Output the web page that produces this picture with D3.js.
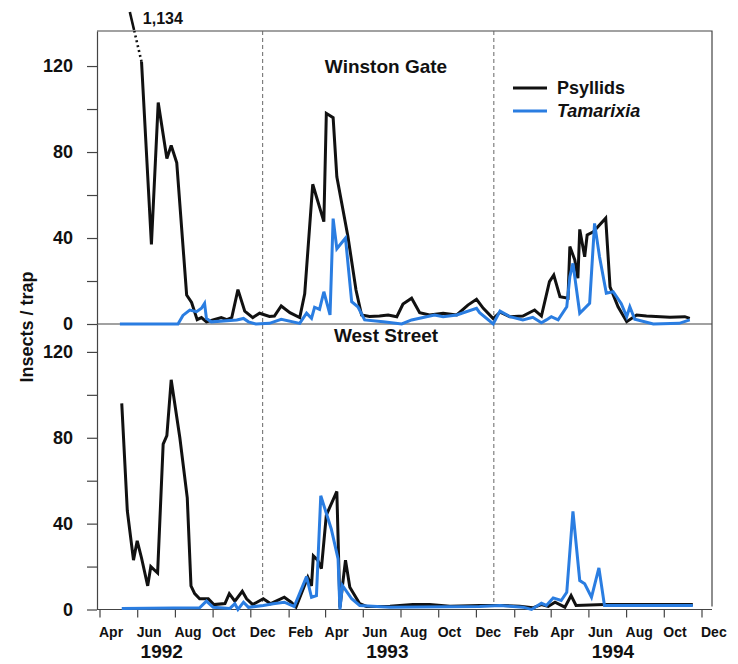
<!DOCTYPE html>
<html>
<head>
<meta charset="utf-8">
<script src="https://cdnjs.cloudflare.com/ajax/libs/d3/7.8.5/d3.min.js"></script>
<style>
  body { margin: 0; background: #fff; }
  svg text { font-family: "Liberation Sans", Arial, Helvetica, sans-serif; font-weight: bold; fill: #111; }
</style>
</head>
<body>
<svg id="chart" width="738" height="664"></svg>
<script>
// weekly trap counts as [date, insects per trap]
const wgPsyllids = [
  ["1992-05-14", 1134], ["1992-06-08", 122], ["1992-06-24", 37], ["1992-07-05", 103],
  ["1992-07-19", 77], ["1992-07-26", 83], ["1992-08-04", 75], ["1992-08-20", 13.5],
  ["1992-08-28", 10], ["1992-09-06", 2], ["1992-09-13", 3], ["1992-09-21", 1],
  ["1992-10-03", 2], ["1992-10-15", 3], ["1992-10-24", 2], ["1992-11-01", 3],
  ["1992-11-11", 16], ["1992-11-22", 6], ["1992-12-05", 3], ["1992-12-16", 5],
  ["1993-01-01", 3.5], ["1993-01-09", 3.7], ["1993-01-20", 8.4], ["1993-02-03", 5.3],
  ["1993-02-19", 3], ["1993-02-27", 14], ["1993-03-12", 65], ["1993-03-30", 47.6],
  ["1993-04-03", 98], ["1993-04-14", 96], ["1993-04-20", 68.5], ["1993-05-08", 40.6],
  ["1993-05-21", 15.8], ["1993-05-30", 4.2], ["1993-06-12", 3.5], ["1993-06-28", 3.7],
  ["1993-07-12", 4.2], ["1993-07-26", 3.4], ["1993-08-05", 9.3], ["1993-08-19", 12],
  ["1993-09-01", 5.3], ["1993-09-17", 4.2], ["1993-10-09", 5], ["1993-10-31", 4.2],
  ["1993-11-18", 8.8], ["1993-12-02", 11.5], ["1993-12-13", 7.3], ["1993-12-29", 2.5],
  ["1994-01-09", 5.5], ["1994-01-25", 3.4], ["1994-02-15", 3.7], ["1994-03-06", 6.5],
  ["1994-03-17", 3.7], ["1994-03-30", 19.7], ["1994-04-06", 22.8], ["1994-04-16", 12.7],
  ["1994-04-29", 12], ["1994-05-02", 36], ["1994-05-10", 29.8], ["1994-05-15", 21.3],
  ["1994-05-18", 44], ["1994-05-26", 31.3], ["1994-05-30", 41.4], ["1994-06-09", 42.9],
  ["1994-06-29", 49.2], ["1994-07-06", 17.3], ["1994-07-19", 8], ["1994-08-02", 1.1],
  ["1994-08-18", 4.2], ["1994-09-03", 3.7], ["1994-10-11", 3.1], ["1994-11-04", 3.4],
  ["1994-11-12", 2.6]
];

const wgTamarixia = [
  ["1992-05-04", 0], ["1992-08-06", 0], ["1992-08-14", 4], ["1992-08-25", 6.5],
  ["1992-09-05", 5.7], ["1992-09-13", 7.3], ["1992-09-18", 9.6], ["1992-09-21", 2.6],
  ["1992-09-29", 1], ["1992-11-09", 1.9], ["1992-11-20", 2.6], ["1992-11-28", 1],
  ["1992-12-10", 0], ["1993-01-01", 0.3], ["1993-01-20", 2.2], ["1993-02-19", 0.3],
  ["1993-03-02", 5], ["1993-03-10", 2.6], ["1993-03-15", 7.8], ["1993-03-23", 6.8],
  ["1993-03-30", 15], ["1993-04-09", 4.2], ["1993-04-14", 49], ["1993-04-20", 35],
  ["1993-05-04", 40], ["1993-05-14", 10.4], ["1993-05-24", 8], ["1993-06-04", 1.9],
  ["1993-07-04", 1], ["1993-08-03", 0], ["1993-08-19", 1.9], ["1993-09-25", 4.2],
  ["1993-10-09", 3.4], ["1993-10-31", 4.2], ["1993-12-02", 7.3], ["1993-12-07", 5.3],
  ["1993-12-29", 0], ["1994-01-09", 6], ["1994-01-25", 3.4], ["1994-02-15", 1.9],
  ["1994-03-03", 3.1], ["1994-03-17", 0.6], ["1994-03-25", 1.9], ["1994-04-02", 3.4],
  ["1994-04-13", 1.9], ["1994-04-27", 8], ["1994-05-02", 22], ["1994-05-07", 28.2],
  ["1994-05-18", 5], ["1994-06-03", 9.6], ["1994-06-11", 46.8], ["1994-06-19", 31.3],
  ["1994-06-30", 14.3], ["1994-07-11", 15], ["1994-07-24", 9.6], ["1994-08-02", 3.4],
  ["1994-08-07", 8], ["1994-08-15", 2.2], ["1994-09-14", 0], ["1994-10-26", 0.3],
  ["1994-11-12", 1.9]
];

const wsPsyllids = [
  ["1992-05-07", 96], ["1992-05-16", 46], ["1992-05-26", 23], ["1992-06-01", 32],
  ["1992-06-08", 24], ["1992-06-18", 11], ["1992-06-23", 20], ["1992-07-04", 17],
  ["1992-07-13", 77], ["1992-07-19", 81], ["1992-07-26", 107], ["1992-08-09", 80],
  ["1992-08-21", 52], ["1992-08-27", 11], ["1992-09-02", 7.4], ["1992-09-10", 5],
  ["1992-09-24", 5], ["1992-10-03", 2.3], ["1992-10-21", 2.8], ["1992-10-28", 7.4],
  ["1992-11-06", 3.9], ["1992-11-18", 8.5], ["1992-11-25", 5], ["1992-12-05", 2.3],
  ["1992-12-22", 5], ["1993-01-03", 2.7], ["1993-01-25", 5.7], ["1993-02-05", 3.4],
  ["1993-02-13", 1.1], ["1993-03-04", 15], ["1993-03-10", 11], ["1993-03-13", 25],
  ["1993-03-20", 23], ["1993-03-26", 19], ["1993-04-03", 44], ["1993-04-20", 55],
  ["1993-04-25", 1], ["1993-05-04", 23], ["1993-05-11", 10.4], ["1993-05-27", 2.7],
  ["1993-06-07", 1.4], ["1993-07-15", 1.5], ["1993-08-21", 2.3], ["1993-09-17", 2.3],
  ["1993-10-20", 1.5], ["1993-12-07", 1.9], ["1994-01-15", 1.9], ["1994-02-10", 1.5],
  ["1994-03-03", 0.8], ["1994-03-17", 2.3], ["1994-03-28", 1.4], ["1994-04-08", 3.4],
  ["1994-04-24", 1.1], ["1994-05-04", 6.5], ["1994-05-12", 1.9], ["1994-06-27", 2.3],
  ["1994-11-17", 2.3]
];

const wsTamarixia = [
  ["1992-05-07", 0.5], ["1992-09-10", 0.8], ["1992-09-21", 3.9], ["1992-10-02", 1],
  ["1992-10-29", 0.5], ["1992-11-06", 2.7], ["1992-11-11", 0], ["1992-11-20", 3.4],
  ["1992-11-28", 1], ["1992-12-22", 1.9], ["1993-01-07", 2.7], ["1993-01-25", 3.4],
  ["1993-02-10", 1.4], ["1993-03-02", 15.3], ["1993-03-10", 5.7], ["1993-03-18", 6.5],
  ["1993-03-25", 53], ["1993-04-11", 37.5], ["1993-04-22", 23.6], ["1993-04-25", 0],
  ["1993-04-29", 11.2], ["1993-05-14", 5], ["1993-05-27", 1.9], ["1993-07-15", 1],
  ["1993-12-07", 1.4], ["1994-01-09", 1.9], ["1994-01-30", 1.4], ["1994-02-15", 1.1],
  ["1994-03-01", 0], ["1994-03-17", 2.9], ["1994-03-25", 1.9], ["1994-04-05", 5.4],
  ["1994-04-18", 4.2], ["1994-04-27", 8], ["1994-05-07", 45.7], ["1994-05-18", 13.5],
  ["1994-05-26", 12], ["1994-06-06", 5.7], ["1994-06-18", 19.4], ["1994-06-27", 1.9],
  ["1994-11-17", 1.9]
];

const siteNames = ["Winston Gate", "West Street"];
const seriesNames = ["Psyllids", "Tamarixia"];
const seasonBreaks = ["1992-12-21", "1993-12-30"];
const yearLabels = ["1992", "1993", "1994"];
const yTicks = [0, 20, 40, 60, 80, 100, 120];

const parse = d3.timeParse("%Y-%m-%d");
const toPoints = arr => arr.map(d => ({ date: parse(d[0]), value: d[1] }));

const colors = { psy: "#111111", tam: "#2a7de1" };
const svg = d3.select("#chart");

const plotL = 97, plotR = 712, plotT = 31, plotM = 324, plotB = 609.5;

const xStart = new Date(1992, 3, 1), xEnd = new Date(1994, 11, 1);
const x = d3.scaleTime()
    .domain([xStart, xEnd])
    .range([99.5, 701.5]);

const yTop = d3.scaleLinear().domain([0, 136.3]).range([plotM, plotT]);
const yBot = d3.scaleLinear().domain([0, 133]).range([plotB, plotM]);

// frame
const frame = svg.append("g").attr("stroke", "#444").attr("stroke-width", 1.2).attr("fill", "none");
frame.append("path").attr("d", `M${plotL},${plotT}H${plotR}V${plotB - 3}`);
frame.append("path").attr("d", `M${plotL},${plotM}H${plotR}`);
frame.append("path").attr("d", `M${plotL},${plotB}H${plotR}`);

// season dividers
svg.append("g").selectAll("line")
    .data(seasonBreaks.map(parse))
    .join("line")
    .attr("x1", d => x(d)).attr("x2", d => x(d))
    .attr("y1", plotT).attr("y2", plotB - 3)
    .attr("stroke", "#666")
    .attr("stroke-width", 1)
    .attr("stroke-dasharray", "4,3");

// y axes
function drawYAxis(scale) {
    const ax = svg.append("g")
        .attr("transform", `translate(${plotL},0)`)
        .call(d3.axisLeft(scale)
            .tickValues(yTicks)
            .tickSize(10)
            .tickSizeOuter(0)
            .tickPadding(14)
            .tickFormat(d => d % 40 === 0 ? d : ""));
    ax.select(".domain").attr("stroke", "#444").attr("stroke-width", 1.2);
    ax.selectAll(".tick line").attr("stroke", "#444").attr("stroke-width", 1.2);
    ax.selectAll(".tick text")
        .attr("font-size", 18)
        .attr("font-family", "Liberation Sans, Arial, sans-serif")
        .attr("font-weight", "bold")
        .attr("fill", "#111");
}
drawYAxis(yTop);
drawYAxis(yBot);

// x axis: every other month starting in April
const monthTicks = d3.timeMonth.range(xStart, d3.timeDay.offset(xEnd, 1))
    .filter(d => d.getMonth() % 2 === 1);

const xAxis = svg.append("g")
    .attr("transform", `translate(0,${plotB})`)
    .call(d3.axisBottom(x)
        .tickValues(monthTicks)
        .tickSize(8)
        .tickSizeOuter(0)
        .tickPadding(10)
        .tickFormat(d3.timeFormat("%b")));
xAxis.select(".domain").remove();
xAxis.selectAll(".tick line").attr("stroke", "#444").attr("stroke-width", 1.2);
xAxis.selectAll(".tick text")
    .attr("text-anchor", "start")
    .attr("dx", -1)
    .attr("font-size", 14)
    .attr("font-family", "Liberation Sans, Arial, sans-serif")
    .attr("font-weight", "bold")
    .attr("fill", "#111");

svg.append("g").selectAll("text")
    .data(yearLabels)
    .join("text")
    .attr("x", d => x(new Date(+d, 6, 1)) + 6)
    .attr("y", 658)
    .attr("text-anchor", "middle")
    .attr("font-size", 19)
    .text(d => d);

svg.append("text")
    .attr("transform", "translate(33,327) rotate(-90)")
    .attr("text-anchor", "middle")
    .attr("font-size", 18)
    .text("Insects / trap");

// series
function drawPanel(yScale, psy, tam, title, titleDrop) {
    const ymax = yScale.domain()[1];
    const line = d3.line()
        .defined(d => d.value <= ymax)
        .x(d => x(d.date))
        .y(d => yScale(d.value));

    [[psy, colors.psy], [tam, colors.tam]].forEach(([pts, c]) => {
        svg.append("path")
            .datum(pts)
            .attr("fill", "none")
            .attr("stroke", c)
            .attr("stroke-width", 3)
            .attr("stroke-linejoin", "miter")
            .attr("stroke-miterlimit", 3)
            .attr("d", line);
    });

    // off-scale value: broken segment with its count written beside it
    psy.forEach((d, i) => {
        if (d.value <= ymax) return;
        const n = psy[i + 1];
        const frameTop = yScale(ymax);
        const px = x(n.date), py = yScale(n.value);
        const qx = x(d.date), qy = frameTop - 35;
        const at = yy => px + (qx - px) * (py - yy) / (py - qy);
        svg.append("line")
            .attr("x1", px).attr("y1", py).attr("x2", at(frameTop)).attr("y2", frameTop)
            .attr("stroke", colors.psy).attr("stroke-width", 2.6)
            .attr("stroke-dasharray", "2,3");
        svg.append("line")
            .attr("x1", at(frameTop - 1)).attr("y1", frameTop - 1)
            .attr("x2", at(frameTop - 19)).attr("y2", frameTop - 19)
            .attr("stroke", colors.psy).attr("stroke-width", 2.6);
        svg.append("text")
            .attr("x", at(frameTop - 19) + 13)
            .attr("y", frameTop - 7)
            .attr("font-size", 16)
            .text(d3.format(",")(d.value));
    });

    svg.append("text")
        .attr("x", 386)
        .attr("y", yScale(ymax) + titleDrop)
        .attr("text-anchor", "middle")
        .attr("font-size", 19)
        .text(title);
}

drawPanel(yTop, toPoints(wgPsyllids), toPoints(wgTamarixia), siteNames[0], 42);
drawPanel(yBot, toPoints(wsPsyllids), toPoints(wsTamarixia), siteNames[1], 18);

// legend
const legend = svg.append("g").attr("transform", "translate(513,0)");
[[seriesNames[0], colors.psy, 88, "normal"], [seriesNames[1], colors.tam, 111, "italic"]]
    .forEach(([name, c, ly, style]) => {
        legend.append("line")
            .attr("x1", 0).attr("x2", 34)
            .attr("y1", ly).attr("y2", ly)
            .attr("stroke", c).attr("stroke-width", 3);
        legend.append("text")
            .attr("x", 44).attr("y", ly + 6)
            .attr("font-size", 18)
            .attr("font-style", style)
            .text(name);
    });
</script>
</body>
</html>
